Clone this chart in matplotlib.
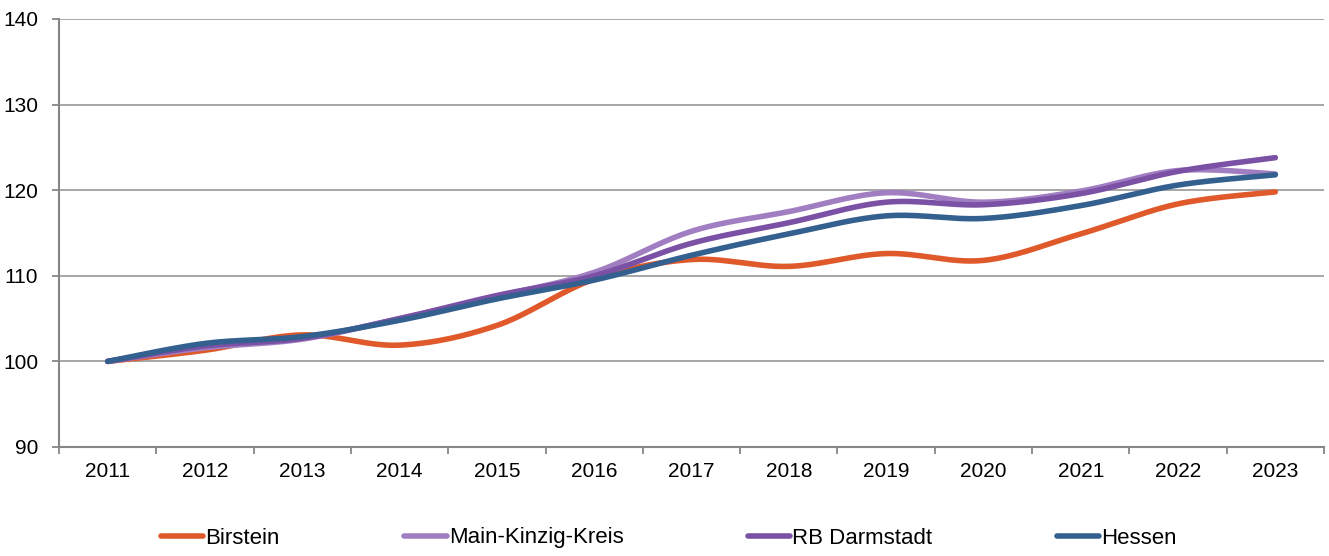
import numpy as np
import matplotlib.pyplot as plt

jahre = ['2011', '2012', '2013', '2014', '2015', '2016', '2017',
         '2018', '2019', '2020', '2021', '2022', '2023']
birstein = [100, 101.3, 103.1, 101.9, 104.2, 109.6, 111.9, 111.1, 112.6, 111.8, 114.9, 118.4, 119.8]
mkk = [100, 101.6, 102.6, 105.0, 107.6, 110.4, 115.2, 117.5, 119.7, 118.6, 119.9, 122.3, 121.9]
rb_darmstadt = [100, 101.8, 102.7, 105.0, 107.7, 110.0, 113.8, 116.2, 118.6, 118.3, 119.6, 122.2, 123.8]
hessen = [100, 102.1, 102.9, 104.8, 107.3, 109.5, 112.4, 114.9, 117.0, 116.7, 118.2, 120.6, 121.8]

namen = ['Birstein', 'Main-Kinzig-Kreis', 'RB Darmstadt', 'Hessen']
farben = ['#E0592A', '#A17EC1', '#7B51A5', '#34608F']

plt.rcParams['font.family'] = ['Liberation Sans', 'DejaVu Sans']


def glatt(y, n=30):
    # Excel-artige Glaettung (Bezier durch die Punkte)
    y = np.asarray(y, dtype=float)
    x = np.arange(len(y), dtype=float)
    xs, ys = [], []
    for i in range(len(y) - 1):
        x0, x3 = x[i], x[i + 1]
        yp = y[i - 1] if i > 0 else y[i]
        yn = y[i + 2] if i + 2 < len(y) else y[i + 1]
        xp = x[i - 1] if i > 0 else x[i]
        xn = x[i + 2] if i + 2 < len(y) else x[i + 1]
        x1 = x0 + (x3 - xp) / 6
        y1 = y[i] + (y[i + 1] - yp) / 6
        x2 = x3 - (xn - x0) / 6
        y2 = y[i + 1] - (yn - y[i]) / 6
        t = np.linspace(0, 1, n)
        bx = (1-t)**3*x0 + 3*(1-t)**2*t*x1 + 3*(1-t)*t**2*x2 + t**3*x3
        by = (1-t)**3*y[i] + 3*(1-t)**2*t*y1 + 3*(1-t)*t**2*y2 + t**3*y[i+1]
        xs.extend(bx)
        ys.extend(by)
    return np.array(xs), np.array(ys)


fig = plt.figure(figsize=(13.29, 5.56), dpi=100)
ax = fig.add_axes([59/1329, 1 - 447/556, (1324 - 59)/1329, (447 - 19)/556])

for werte, name, farbe in zip([birstein, mkk, rb_darmstadt, hessen], namen, farben):
    xs, ys = glatt(werte)
    ax.plot(xs, ys, color=farbe, linewidth=4.0, solid_capstyle='round', label=name)

ax.set_xlim(-0.5, len(jahre) - 0.5)
ax.set_ylim(90, 140)
ax.set_yticks([90, 100, 110, 120, 130, 140])
ax.set_xticks(range(len(jahre)))
ax.set_xticklabels(jahre)
ax.set_xticks(np.arange(-0.5, len(jahre), 1), minor=True)
ax.tick_params(axis='x', which='major', length=0, pad=11, labelsize=15)
ax.tick_params(axis='x', which='minor', length=5, width=1.3, color='#868686', direction='out')
ax.tick_params(axis='y', length=5, width=1.3, color='#868686', labelsize=15, pad=10)

ax.yaxis.grid(True, color='#a6a6a6', linewidth=1.4)
ax.set_axisbelow(True)
for s in ['top', 'right']:
    ax.spines[s].set_visible(False)
for s in ['left', 'bottom']:
    ax.spines[s].set_color('#868686')
    ax.spines[s].set_linewidth(1.5)

fig.legend(loc='center', bbox_to_anchor=(669/1329, 1 - 538/556), ncol=4, frameon=False,
           fontsize=16, handlelength=1.9, handletextpad=0.1, columnspacing=5.6)

plt.savefig('out.png')
